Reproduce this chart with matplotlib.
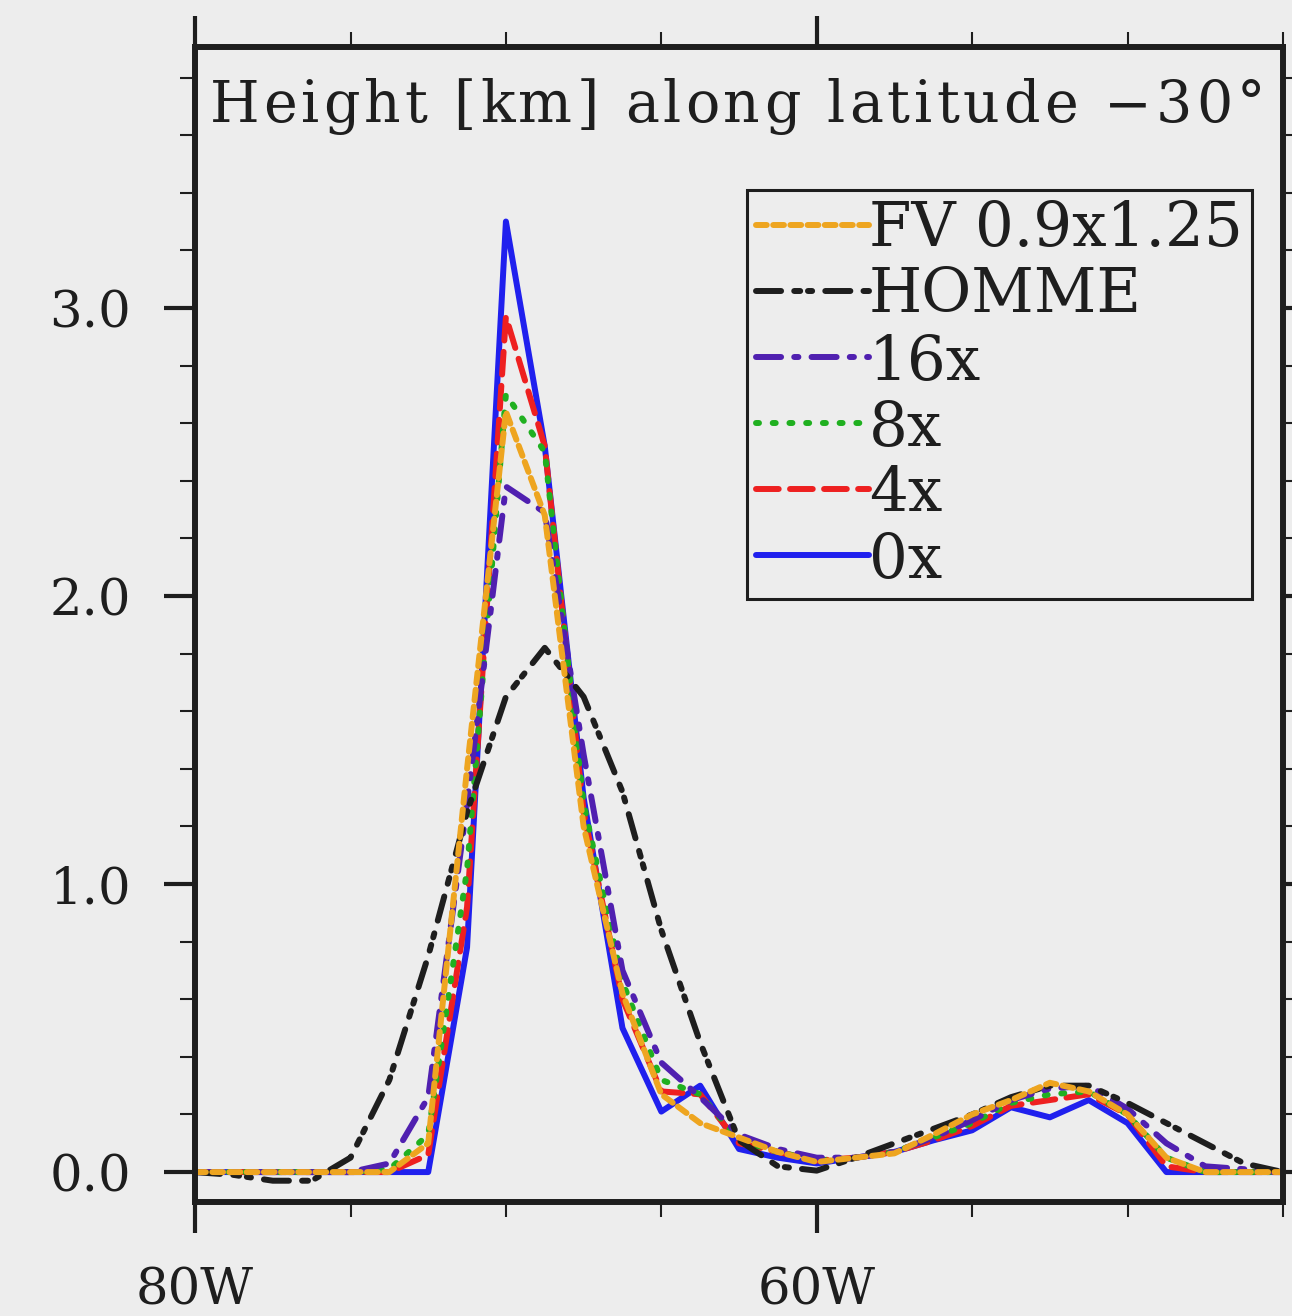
import numpy as np
import matplotlib.pyplot as plt
from matplotlib.ticker import MultipleLocator, FixedLocator
from matplotlib.transforms import IdentityTransform
from matplotlib.font_manager import FontProperties

lon = [-80.0, -78.75, -77.5, -76.25, -75.0, -73.75, -72.5, -71.25, -70.0, -68.75,
       -67.5, -66.25, -65.0, -63.75, -62.5, -61.25, -60.0, -58.75, -57.5, -56.25,
       -55.0, -53.75, -52.5, -51.25, -50.0, -48.75, -47.5, -46.25, -45.0]

h_0x = [0, 0, 0, 0, 0, 0, 0, 0.78, 3.30, 2.52, 1.30, 0.50, 0.21, 0.30, 0.08, 0.05,
        0.03, 0.05, 0.07, 0.11, 0.145, 0.225, 0.19, 0.25, 0.17, 0, 0, 0, 0]
h_4x = [0, 0, 0, 0, 0, 0, 0.06, 0.92, 2.97, 2.52, 1.25, 0.60, 0.28, 0.27, 0.10, 0.07,
        0.04, 0.05, 0.07, 0.11, 0.16, 0.23, 0.25, 0.27, 0.20, 0.02, 0, 0, 0]
h_8x = [0, 0, 0, 0, 0, 0.01, 0.13, 1.05, 2.70, 2.50, 1.28, 0.66, 0.32, 0.27, 0.11, 0.07,
        0.04, 0.05, 0.07, 0.12, 0.17, 0.24, 0.27, 0.28, 0.20, 0.05, 0, 0, 0]
h_16x = [0, 0, 0, 0, 0, 0.03, 0.26, 1.28, 2.38, 2.29, 1.45, 0.70, 0.38, 0.26, 0.13, 0.08,
         0.05, 0.05, 0.07, 0.12, 0.18, 0.25, 0.29, 0.30, 0.22, 0.10, 0.02, 0.01, 0]
h_homme = [0, -0.01, -0.03, -0.03, 0.05, 0.32, 0.75, 1.25, 1.65, 1.82, 1.65, 1.32, 0.84,
           0.45, 0.11, 0.02, 0.005, 0.05, 0.10, 0.15, 0.20, 0.26, 0.30, 0.30, 0.24, 0.17,
           0.10, 0.03, 0.0]
h_fv = [0, 0, 0, 0, 0, 0, 0.10, 1.40, 2.64, 2.28, 1.20, 0.62, 0.27, 0.17, 0.12, 0.07,
        0.035, 0.05, 0.065, 0.13, 0.20, 0.25, 0.31, 0.28, 0.20, 0.05, 0, 0, 0]

xticks = [-80, -60]
xticklabels = ["80W", "60W"]
yticks = [0, 1, 2, 3]
yticklabels = ["0.0", "1.0", "2.0", "3.0"]
title = "Height [km] along latitude \u221230\u00b0"

bg = "#ededed"
ink = "#1e1e1e"
plt.rcParams['font.family'] = ['DejaVu Serif']

fig = plt.figure(figsize=(12.92, 13.16), dpi=100, facecolor=bg)
ax = fig.add_axes([0.151, 0.0866, 0.842, 0.8777], facecolor=bg)

lw = 4.3
series = [
    (h_0x, "0x", "#2020ee", "-"),
    (h_4x, "4x", "#ee2020", (0, (3.8, 1.9))),
    (h_8x, "8x", "#20b020", (0, (0.5, 2.3))),
    (h_16x, "16x", "#5020b0", (0, (4.2, 2.2, 0.7, 2.2))),
    (h_homme, "HOMME", ink, (0, (4.2, 2.2, 1.0, 1.3, 0.7, 2.2))),
    (h_fv, "FV 0.9x1.25", "#eea520", (0, (1.8, 1.08))),
]
handles = []
for vals, name, col, ls in series:
    ln, = ax.plot(lon, vals, color=col, lw=lw, ls=ls, label=name,
                  dash_capstyle='round', solid_capstyle='round')
    handles.append(ln)

ax.set_xlim(-80, -45)
ax.set_ylim(-0.104, 3.906)

ax.xaxis.set_major_locator(FixedLocator(xticks))
ax.set_xticklabels(xticklabels)
ax.xaxis.set_minor_locator(MultipleLocator(5))
ax.yaxis.set_major_locator(FixedLocator(yticks))
ax.set_yticklabels(yticklabels)
ax.yaxis.set_minor_locator(MultipleLocator(0.2))

ax.tick_params(which='both', direction='out', top=True, right=True, colors=ink,
               labelsize=37, labelcolor=ink)
ax.tick_params(which='major', length=22, width=3)
ax.tick_params(which='minor', length=11, width=1.5)
ax.tick_params(axis='x', which='major', pad=24)
ax.tick_params(axis='y', which='major', pad=24)
for s in ax.spines.values():
    s.set_linewidth(4.3)
    s.set_color(ink)

# title with extra letter spacing, placed in pixels
fp = FontProperties(family='DejaVu Serif', size=41)
renderer = fig.canvas.get_renderer()
def textw(s):
    a = renderer.get_text_width_height_descent("|" + s + "|", fp, ismath=False)[0]
    b = renderer.get_text_width_height_descent("||", fp, ismath=False)[0]
    return a - b
x0, base = 210, 1316 - 122
track = 4.0
for i, ch in enumerate(title):
    fig.text(x0 + textw(title[:i]) + i * track, base, ch, fontproperties=fp,
             color=ink, ha='left', va='baseline', transform=IdentityTransform())

leg = ax.legend(handles=handles[::-1], loc='upper right', bbox_to_anchor=(0.9715, 0.876),
                fontsize=44, handlelength=1.85, handletextpad=0.0, labelspacing=0.1,
                borderpad=0.15, borderaxespad=0, fancybox=False, frameon=True)
leg.get_frame().set_facecolor(bg)
leg.get_frame().set_edgecolor(ink)
leg.get_frame().set_linewidth(2.2)
leg.get_frame().set_alpha(1)
for t in leg.get_texts():
    t.set_color(ink)

fig.savefig("out.png", dpi=100, facecolor=bg)
